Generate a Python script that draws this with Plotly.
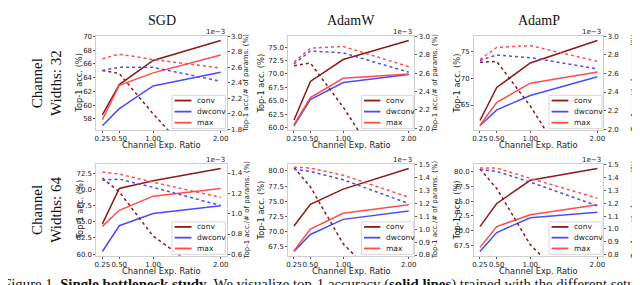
import plotly.graph_objects as go

# ---------------- data ----------------
ratios = [0.25, 0.5, 1.0, 2.0]
tick_labels = ["0.25", "0.50", "1.00", "2.00"]
optimizers = ["SGD", "AdamW", "AdamP"]
widths = ["32", "64"]
series_names = ["conv", "dwconv", "max"]

# top-1 accuracy (%) -- solid lines, left axis
acc_w32_sgd = {"conv": [58.6, 63.0, 66.5, 69.4], "dwconv": [57.0, 59.5, 62.8, 64.8], "max": [57.9, 62.9, 64.7, 67.3]}
acc_w32_adamw = {"conv": [61.4, 68.6, 72.7, 76.25], "dwconv": [60.3, 65.2, 68.4, 69.9], "max": [60.5, 65.6, 69.2, 70.0]}
acc_w32_adamp = {"conv": [62.1, 68.3, 72.9, 77.1], "dwconv": [61.1, 64.1, 66.8, 70.3], "max": [61.2, 65.5, 69.1, 71.2]}
acc_w64_sgd = {"conv": [64.7, 70.2, 71.4, 73.3], "dwconv": [60.4, 64.4, 66.3, 67.5], "max": [64.3, 66.8, 69.0, 70.2]}
acc_w64_adamw = {"conv": [70.9, 74.5, 77.0, 80.4], "dwconv": [66.7, 69.5, 72.0, 73.4], "max": [66.8, 70.4, 73.0, 74.4]}
acc_w64_adamp = {"conv": [70.7, 74.6, 78.5, 80.5], "dwconv": [66.5, 69.7, 72.2, 73.1], "max": [67.2, 70.7, 72.7, 74.4]}

# top-1 acc / # of params (x1e-3) -- dotted lines, right axis
eff_w32_sgd = {"conv": [2.56, 2.52, 2.00, 1.05], "dwconv": [2.56, 2.60, 2.60, 2.42], "max": [2.71, 2.77, 2.70, 2.59]}
eff_w32_adamw = {"conv": [2.68, 2.71, 2.23, 1.13], "dwconv": [2.70, 2.84, 2.82, 2.61], "max": [2.72, 2.87, 2.89, 2.67]}
eff_w32_adamp = {"conv": [2.72, 2.73, 2.25, 1.10], "dwconv": [2.74, 2.80, 2.77, 2.65], "max": [2.75, 2.88, 2.90, 2.73]}
eff_w64_sgd = {"conv": [1.35, 1.215, 0.78, 0.30], "dwconv": [1.33, 1.34, 1.26, 1.08], "max": [1.41, 1.39, 1.31, 1.16]}
eff_w64_adamw = {"conv": [1.48, 1.33, 0.887, 0.37], "dwconv": [1.466, 1.45, 1.385, 1.20], "max": [1.483, 1.476, 1.42, 1.25]}
eff_w64_adamp = {"conv": [1.468, 1.316, 0.875, 0.355], "dwconv": [1.463, 1.45, 1.365, 1.18], "max": [1.476, 1.476, 1.395, 1.24]}

acc_panels = [acc_w32_sgd, acc_w32_adamw, acc_w32_adamp, acc_w64_sgd, acc_w64_adamw, acc_w64_adamp]
eff_panels = [eff_w32_sgd, eff_w32_adamw, eff_w32_adamp, eff_w64_sgd, eff_w64_adamw, eff_w64_adamp]

# ---------------- styling ----------------
W, H = 640, 285
colors = {"conv": "#8b1a1a", "dwconv": "#4b4bff", "max": "#ff4d4d"}
col_px = [(87, 218), (280, 407), (467, 597)]
row_px = [(25, 121.5), (156.7, 250.7)]
left_ranges = [[56.38, 70.02], [59.5, 77.05], [60.3, 77.9], [59.75, 73.95], [66.0, 81.1], [65.8, 81.2]]
left_dticks = [2, 2.5, 5, 2.5, 2.5, 2.5]
left_fmt = [".0f", ".1f", ".0f", ".1f", ".1f", ".1f"]
right_ranges = [[1.79, 3.0], [1.98, 3.0], [1.99, 3.0], [0.587, 1.486], [0.795, 1.505], [0.79, 1.505]]
right_dticks = [0.2, 0.2, 0.2, 0.2, 0.1, 0.1]
left_title_x = [70, 253, 450]
right_title_x = [238, 428, 628]

tick_font = dict(family="DejaVu Sans", size=7, color="#222")
lab_font = dict(family="DejaVu Sans", size=8.3, color="#222")
serif = "Liberation Serif"

fig = go.Figure()
layout = dict(width=W, height=H, margin=dict(l=0, r=0, t=0, b=0),
              paper_bgcolor="white", plot_bgcolor="white", showlegend=False)
annotations = []
shapes = []


def sfx(n):
    return "" if n == 1 else str(n)


for i in range(6):
    r, c = divmod(i, 3)
    x0, x1 = col_px[c]
    y0, y1 = row_px[r]
    xd = [x0 / W, x1 / W]
    yd = [1 - y1 / H, 1 - y0 / H]
    xa, ya, yb = "x" + sfx(i + 1), "y" + sfx(i + 1), "y" + sfx(i + 7)
    axis_common = dict(showgrid=False, zeroline=False, linecolor="#cfcfcf", linewidth=1,
                       ticks="outside", ticklen=2, tickcolor="#555", tickfont=tick_font)
    layout["xaxis" + sfx(i + 1)] = dict(domain=xd, anchor=ya, range=[0.1625, 2.0875], tickangle=0,
                                        tickvals=ratios, ticktext=tick_labels, mirror=True, **axis_common)
    layout["yaxis" + sfx(i + 1)] = dict(domain=yd, anchor=xa, range=left_ranges[i], dtick=left_dticks[i],
                                        tickformat=left_fmt[i], mirror=True, **axis_common)
    layout["yaxis" + sfx(i + 7)] = dict(overlaying=ya, anchor=xa, side="right", range=right_ranges[i],
                                        dtick=right_dticks[i], tickformat=".1f", **axis_common)

    for name in series_names:
        fig.add_trace(go.Scatter(x=ratios, y=acc_panels[i][name], mode="lines", name=name,
                                 line=dict(color=colors[name], width=1.5), xaxis=xa, yaxis=ya))
    for name in series_names:
        fig.add_trace(go.Scatter(x=ratios, y=eff_panels[i][name], mode="lines", name=name,
                                 line=dict(color=colors[name], width=1.5, dash="dot"), xaxis=xa, yaxis=yb))

    # axis titles
    ymid = 1 - (y0 + y1) / 2 / H
    annotations.append(dict(text="Top-1 acc. (%)", xref="paper", yref="paper", x=left_title_x[c] / W, y=ymid,
                            textangle=-90, showarrow=False, font=lab_font, xanchor="center", yanchor="middle"))
    annotations.append(dict(text="Top-1 acc./# of params. (%)", xref="paper", yref="paper",
                            x=right_title_x[c] / W, y=ymid, textangle=-90, showarrow=False,
                            font=dict(family="DejaVu Sans", size=7, color="#222"), xanchor="center", yanchor="middle"))
    annotations.append(dict(text="Channel Exp. Ratio", xref="paper", yref="paper", x=(x0 + x1) / 2 / W,
                            y=1 - (y1 + 15.5) / H, showarrow=False, font=lab_font, xanchor="center", yanchor="middle"))
    annotations.append(dict(text="1e\u22123", xref="paper", yref="paper", x=x1 / W, y=1 - (y0 - 4) / H,
                            showarrow=False, font=dict(family="DejaVu Sans", size=7, color="#222"),
                            xanchor="right", yanchor="middle"))

    # legend box (drawn inside each panel, lower right)
    xdom, ydom = xa + " domain", ya + " domain"
    shapes.append(dict(type="rect", xref=xdom, yref=ydom, x0=0.58, x1=0.99, y0=0.015, y1=0.37,
                       line=dict(color="#d8d8d8", width=1), fillcolor="rgba(255,255,255,0.85)"))
    for k, name in enumerate(series_names):
        yy = 0.315 - k * 0.118
        shapes.append(dict(type="line", xref=xdom, yref=ydom, x0=0.60, x1=0.73, y0=yy, y1=yy,
                           line=dict(color=colors[name], width=1.8)))
        annotations.append(dict(text=name, xref=xdom, yref=ydom, x=0.755, y=yy, showarrow=False,
                                xanchor="left", yanchor="middle", font=dict(family="DejaVu Sans", size=7.5, color="#222")))

# column titles
for c, opt in enumerate(optimizers):
    annotations.append(dict(text=opt, xref="paper", yref="paper", x=(col_px[c][0] + col_px[c][1]) / 2 / W,
                            y=1 - 9 / H, showarrow=False, font=dict(family=serif, size=14, color="#111"),
                            xanchor="center", yanchor="middle"))
# row labels
for r, w in enumerate(widths):
    annotations.append(dict(text=f"Channel<br>Widths: {w}", xref="paper", yref="paper", x=37 / W,
                            y=1 - (row_px[r][0] + row_px[r][1]) / 2 / H, textangle=-90, showarrow=False,
                            font=dict(family=serif, size=15, color="#111"), xanchor="center", yanchor="middle"))
# caption (cropped like the reference)
annotations.append(dict(text="Figure 1. <b>Single bottleneck study</b>. We visualize top-1 accuracy (<b>solid lines</b>) trained with the different setups",
                        xref="paper", yref="paper", x=-9.5 / W, y=1 - 270 / H, showarrow=False, xanchor="left",
                        yanchor="top", font=dict(family=serif, size=14.8, color="#111")))

layout["annotations"] = annotations
layout["shapes"] = shapes
fig.update_layout(**layout)
fig.write_html("out.html")
